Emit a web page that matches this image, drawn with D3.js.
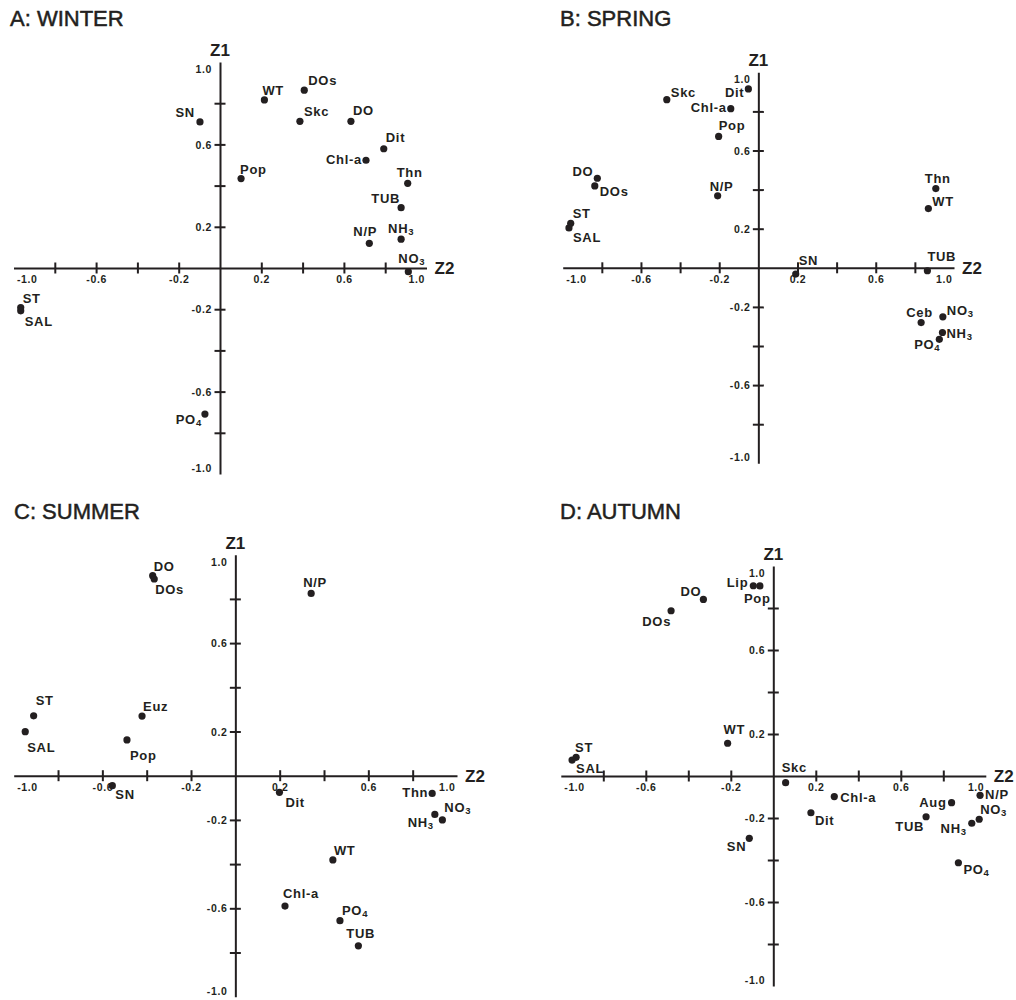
<!DOCTYPE html>
<html>
<head>
<meta charset="utf-8">
<script src="https://cdn.jsdelivr.net/npm/d3@7"></script>
<style>
  body { margin: 0; background: #fff; }
  text { font-family: "Liberation Sans", Arial, sans-serif; fill: #231f20; }
</style>
</head>
<body>
<div id="chart"></div>
<script>
// loadings (Z2 = horizontal, Z1 = vertical)
const winterNames = ['WT', 'DOs', 'SN', 'Skc', 'DO', 'Dit', 'Chl-a', 'Pop', 'Thn', 'TUB', 'N/P', 'NH3', 'NO3', 'ST', 'SAL', 'PO4'];
const winterZ2 = [0.215, 0.408, -0.097, 0.387, 0.634, 0.793, 0.707, 0.102, 0.909, 0.877, 0.723, 0.877, 0.912, -0.965, -0.965, -0.073];
const winterZ1 = [0.816, 0.863, 0.709, 0.712, 0.712, 0.579, 0.523, 0.434, 0.411, 0.293, 0.120, 0.140, -0.018, -0.192, -0.208, -0.709];

const springNames = ['Skc', 'Dit', 'Chl-a', 'Pop', 'DO', 'DOs', 'N/P', 'ST', 'SAL', 'Thn', 'WT', 'SN', 'TUB', 'Ceb', 'NO3', 'NH3', 'PO4'];
const springZ2 = [-0.468, -0.051, -0.141, -0.203, -0.823, -0.836, -0.208, -0.959, -0.968, 0.907, 0.869, 0.191, 0.864, 0.832, 0.943, 0.941, 0.925];
const springZ1 = [0.860, 0.915, 0.814, 0.672, 0.458, 0.419, 0.368, 0.228, 0.204, 0.405, 0.303, -0.032, -0.015, -0.280, -0.251, -0.331, -0.366];

const summerNames = ['DO', 'DOs', 'ST', 'SAL', 'Euz', 'Pop', 'N/P', 'SN', 'Dit', 'Thn', 'NH3', 'NO3', 'WT', 'Chl-a', 'PO4', 'TUB'];
const summerZ2 = [-0.373, -0.366, -0.910, -0.948, -0.421, -0.489, 0.342, -0.555, 0.199, 0.888, 0.900, 0.934, 0.440, 0.224, 0.472, 0.555];
const summerZ1 = [0.905, 0.890, 0.271, 0.199, 0.270, 0.162, 0.825, -0.045, -0.075, -0.080, -0.175, -0.200, -0.381, -0.590, -0.656, -0.770];

const autumnNames = ['Lip', 'Pop', 'DO', 'DOs', 'WT', 'ST', 'SAL', 'Skc', 'Chl-a', 'N/P', 'Aug', 'Dit', 'TUB', 'NH3', 'NO3', 'SN', 'PO4'];
const autumnZ2 = [-0.094, -0.063, -0.329, -0.481, -0.215, -0.928, -0.947, 0.058, 0.287, 0.973, 0.839, 0.177, 0.719, 0.934, 0.969, -0.113, 0.871];
const autumnZ1 = [0.906, 0.905, 0.841, 0.787, 0.156, 0.089, 0.076, -0.032, -0.098, -0.092, -0.127, -0.175, -0.194, -0.225, -0.206, -0.297, -0.413];

const tickValues = [-1, -0.8, -0.6, -0.4, -0.2, 0.2, 0.4, 0.6, 0.8, 1];
const tickLabels = ['-1.0', '', '-0.6', '', '-0.2', '0.2', '', '0.6', '', '1.0'];

// label offsets from the dot: [dx, dy, anchor]
const winterLabelPos = [[-2, -5], [4, -5], [-5, -5, 'end'], [4, -5], [2, -6], [2, -7], [-4, 4, 'end'], [-1, -5],
  [-11, -6], [-1, -5, 'end'], [-16, -7], [-13, -6], [-10, -9], [2, -5], [4, 15], [-3, 10, 'end']];
const springLabelPos = [[4, -3], [-4, 8, 'end'], [-4, 3, 'end'], [0, -6], [-4, -2, 'end'], [5, 10], [-8, -5], [2, -5],
  [4, 14], [-11, -6], [4, -3], [3, -9], [0, -10], [-15, -6], [4, -2], [4, 5], [1, 10, 'end']];
const summerLabelPos = [[1, -5], [1, 15], [2, -11], [2, 20], [1, -5], [3, 20], [-8, -6], [3, 13], [6, 15],
  [-4, 4, 'end'], [-1, 13, 'end'], [2, -8], [1, -5], [-2, -8], [2, -6], [-12, -8]];
const autumnLabelPos = [[-5, 1, 'end'], [-16, 17], [-2, -3, 'end'], [0, 15, 'end'], [-4, -9], [-1, -5], [4, 13],
  [-4, -11], [6, 5], [5, 4], [-5, 4, 'end'], [4, 12], [-2, 14, 'end'], [-5, 10, 'end'], [1, -5], [-3, 13, 'end'], [5, 11]];

const panels = [
  { title: 'A: WINTER', names: winterNames, z2: winterZ2, z1: winterZ1, lab: winterLabelPos,
    xr: [13.5, 426.5], yr: [474, 62], tx: 10, ty: 26 },
  { title: 'B: SPRING', names: springNames, z2: springZ2, z1: springZ1, lab: springLabelPos,
    xr: [562.7, 954], yr: [463.3, 72.3], tx: 560, ty: 26 },
  { title: 'C: SUMMER', names: summerNames, z2: summerZ2, z1: summerZ1, lab: summerLabelPos,
    xr: [13.7, 457], yr: [996.7, 554.7], tx: 14, ty: 519 },
  { title: 'D: AUTUMN', names: autumnNames, z2: autumnZ2, z1: autumnZ1, lab: autumnLabelPos,
    xr: [560.8, 985.8], yr: [986, 566], tx: 560, ty: 519 }
];

const ink = '#231f20';

const svg = d3.select('#chart')
  .append('svg')
  .attr('width', 1016)
  .attr('height', 1000);

// writes "NH3" style names with a subscript digit
function writeLabel(sel, name) {
  const m = name.match(/^(NH|NO|PO)(\d)$/);
  if (!m) { sel.text(name); return; }
  sel.append('tspan').text(m[1]);
  sel.append('tspan').text(m[2]).attr('font-size', '9.5px').attr('dy', 2);
}

panels.forEach(p => {
  const x = d3.scaleLinear().domain([-1, 1]).range(p.xr);
  const y = d3.scaleLinear().domain([-1, 1]).range(p.yr);
  const g = svg.append('g');

  g.append('text')
    .attr('x', p.tx)
    .attr('y', p.ty)
    .attr('font-size', '22px')
    .attr('stroke', ink)
    .attr('stroke-width', 0.5)
    .text(p.title);

  // horizontal axis (Z2)
  const xAxis = g.append('g')
    .attr('transform', `translate(0,${y(0)})`)
    .call(d3.axisBottom(x).tickValues(tickValues).tickSizeOuter(0)
      .tickFormat((d, i) => tickLabels[i]));
  xAxis.select('.domain').attr('stroke', ink).attr('stroke-width', 2);
  xAxis.selectAll('.tick line')
    .attr('stroke', ink).attr('stroke-width', 2)
    .attr('y1', -5.5).attr('y2', 5.5)
    .attr('display', d => Math.abs(d) === 1 ? 'none' : null);
  xAxis.selectAll('.tick text')
    .attr('fill', ink)
    .attr('font-family', '"Liberation Sans", Arial, sans-serif')
    .attr('font-size', '10.5px').attr('font-weight', 'bold').attr('letter-spacing', '0.6px')
    .attr('y', 15).attr('dy', 0)
    .attr('text-anchor', d => d === -1 ? 'start' : d === 1 ? 'end' : 'middle')
    .attr('x', d => d === -1 ? 3 : d === 1 ? -2 : 0);

  // vertical axis (Z1)
  const yAxis = g.append('g')
    .attr('transform', `translate(${x(0)},0)`)
    .call(d3.axisLeft(y).tickValues(tickValues).tickSizeOuter(0)
      .tickFormat((d, i) => tickLabels[i]));
  yAxis.select('.domain').attr('stroke', ink).attr('stroke-width', 2);
  yAxis.selectAll('.tick line')
    .attr('stroke', ink).attr('stroke-width', 2)
    .attr('x1', -5.5).attr('x2', 5.5)
    .attr('display', d => Math.abs(d) === 1 ? 'none' : null);
  yAxis.selectAll('.tick text')
    .attr('fill', ink)
    .attr('font-family', '"Liberation Sans", Arial, sans-serif')
    .attr('font-size', '10.5px').attr('font-weight', 'bold').attr('letter-spacing', '0.6px')
    .attr('x', -8).attr('dy', '0.35em')
    .attr('y', d => d === 1 ? 7 : d === -1 ? -6 : 0);

  // axis names
  g.append('text')
    .attr('x', x(0)).attr('y', y(1) - 6)
    .attr('text-anchor', 'middle')
    .attr('font-size', '17px').attr('font-weight', 'bold')
    .text('Z1');
  g.append('text')
    .attr('x', x(1) + 8).attr('y', y(0) + 6)
    .attr('font-size', '17px').attr('font-weight', 'bold')
    .text('Z2');

  const pts = p.names.map((n, i) => ({ name: n, z2: p.z2[i], z1: p.z1[i], lab: p.lab[i] }));

  g.selectAll('.dot')
    .data(pts)
    .enter()
    .append('circle')
    .attr('class', 'dot')
    .attr('cx', d => x(d.z2))
    .attr('cy', d => y(d.z1))
    .attr('r', 3.6)
    .attr('fill', ink);

  g.selectAll('.pt-label')
    .data(pts)
    .enter()
    .append('text')
    .attr('class', 'pt-label')
    .attr('x', d => x(d.z2) + d.lab[0])
    .attr('y', d => y(d.z1) + d.lab[1])
    .attr('text-anchor', d => d.lab[2] || 'start')
    .attr('font-size', '13px')
    .attr('font-weight', 'bold')
    .attr('letter-spacing', '0.7px')
    .each(function (d) { writeLabel(d3.select(this), d.name); });
});
</script>
</body>
</html>
